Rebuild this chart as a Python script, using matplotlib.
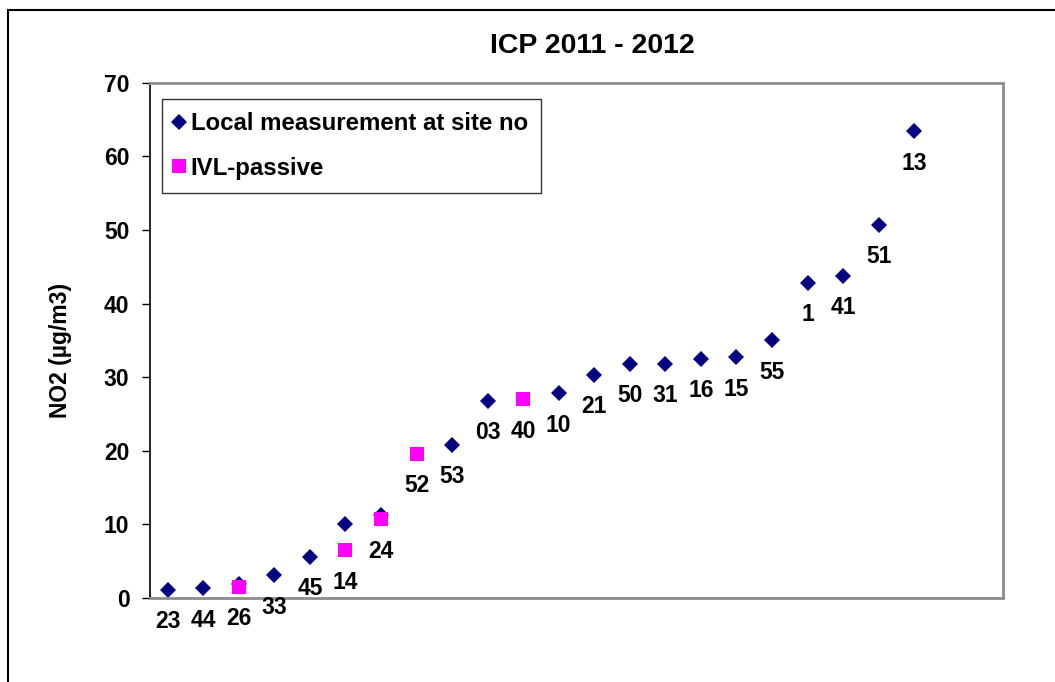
import numpy as np
import matplotlib
matplotlib.use('Agg')
import matplotlib.pyplot as plt
from matplotlib.patches import Rectangle

plt.rcParams['font.family'] = ['Liberation Sans', 'DejaVu Sans']
plt.rcParams['font.weight'] = 'bold'

nan = np.nan

# site numbers, in the order they are plotted
sites = ['23', '44', '26', '33', '45', '14', '24', '52', '53', '03', '40',
         '10', '21', '50', '31', '16', '15', '55', '1', '41', '51', '13']

# Local measurement at site no (ug/m3)
local = [1.1, 1.3, 1.9, 3.1, 5.6, 10.1, 11.3, nan, 20.8, 26.8, nan,
         27.8, 30.3, 31.8, 31.8, 32.5, 32.7, 35.0, 42.8, 43.8, 50.7, 63.4]

# IVL passive samplers (ug/m3)
ivl = [nan, nan, 1.5, nan, nan, 6.5, 10.7, 19.6, nan, nan, 27.0,
       nan, nan, nan, nan, nan, nan, nan, nan, nan, nan, nan]

yticks = [0, 10, 20, 30, 40, 50, 60, 70]

W, H = 1055, 682
fig = plt.figure(figsize=(W / 100, H / 100), dpi=100)
ax = fig.add_axes([150 / W, 1 - 598 / H, (1003 - 150) / W, (598 - 82.7) / H])

x = np.arange(1, len(sites) + 1)
ax.plot(x, local, 'D', color='#000080', ms=8.6, mew=0, linestyle='none',
        label='Local measurement at site no')
ax.plot(x, ivl, 's', color='#FF00FF', ms=9.8, mew=0, linestyle='none',
        label='IVL-passive')

# data labels sit under the lowest marker at each position
anchor = np.fmin(np.array(local), np.array(ivl))
for xi, yi, s in zip(x, anchor, sites):
    ax.annotate(s, (xi, yi), xytext=(0, -23), textcoords='offset points',
                ha='center', va='center', fontsize=16.5, fontweight='bold')

ax.set_xlim(0.5, 24.5)
ax.set_ylim(0, 70)
ax.set_yticks(yticks)
ax.set_xticks([])
ax.tick_params(axis='y', direction='out', length=5.8, width=1, pad=9,
               labelsize=16.5)
for lab in ax.get_yticklabels():
    lab.set_fontweight('bold')

ax.spines['left'].set_color('black')
ax.spines['left'].set_linewidth(1.2)
for side in ['top', 'right', 'bottom']:
    ax.spines[side].set_color('#8c8c8c')
    ax.spines[side].set_linewidth(2)

leg = ax.legend(loc='upper left', bbox_to_anchor=(161.7 / W, 1 - 99 / H),
                bbox_transform=fig.transFigure, prop={'size': 17.3, 'weight': 'bold'},
                frameon=True, fancybox=False, shadow=False, numpoints=1,
                borderpad=0.55, handlelength=0.35, handletextpad=0.3,
                labelspacing=0.9, borderaxespad=0)
leg.get_frame().set_edgecolor('black')
leg.get_frame().set_linewidth(1)

fig.text(592.5 / W, 1 - 46 / H, 'ICP 2011 - 2012', ha='center', va='center',
         fontsize=20.5, fontweight='bold')
fig.text(61 / W, 1 - 350 / H, 'NO2 (µg/m3)', ha='center', va='center',
         rotation=90, fontsize=16.5, fontweight='bold')

# outer chart frame
fig.patches.append(Rectangle((8 / W, -0.1), 1.2, (H - 10) / H + 0.1, fill=False,
                             edgecolor='black', linewidth=1.5,
                             transform=fig.transFigure))

fig.savefig('out.png', dpi=100)
